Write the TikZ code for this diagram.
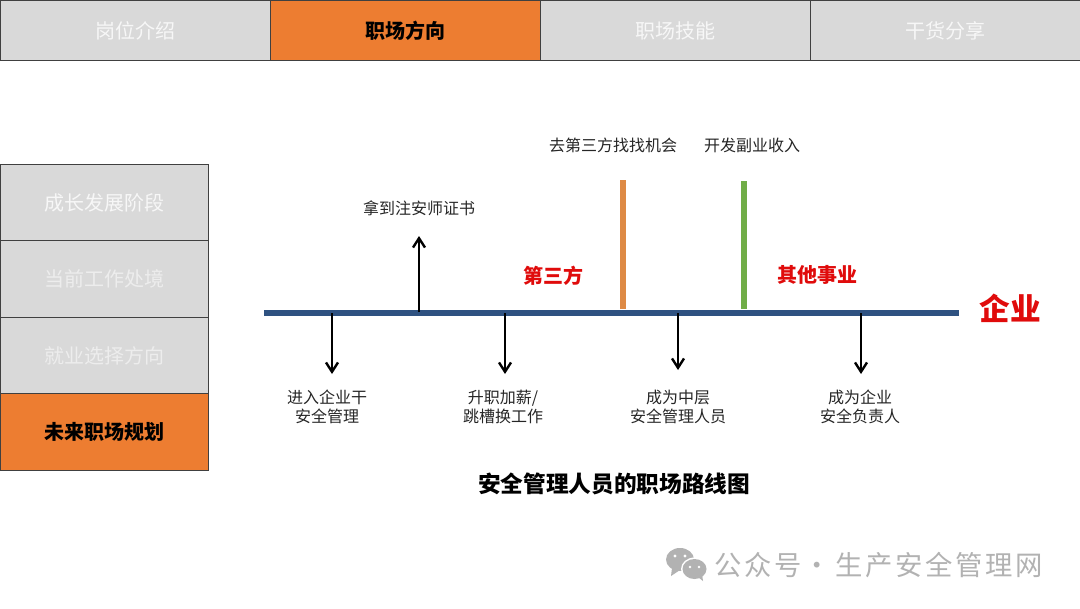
\documentclass[tikz,border=0pt]{standalone}
\usepackage{fontspec}
\setmainfont{Noto Sans CJK SC}
\newfontfamily\wmfont[LetterSpace=10]{Noto Sans CJK SC}
\usetikzlibrary{arrows.meta}
\definecolor{tabgrey}{HTML}{D9D9D9}
\definecolor{taborange}{HTML}{ED7D31}
\definecolor{tabedge}{HTML}{404040}
\definecolor{fadetext}{HTML}{EDEDED}
\definecolor{brighttext}{HTML}{F7F7F7}
\definecolor{axisblue}{HTML}{2F5281}
\definecolor{vorange}{HTML}{DE8A45}
\definecolor{vgreen}{HTML}{70AD47}
\definecolor{redlabel}{HTML}{E00B0B}
\definecolor{markgrey}{HTML}{B2B2B2}
\definecolor{labelgrey}{HTML}{262626}
\tikzset{
  px/.style={x=0.75pt,y=-0.75pt},
  tab/.style={draw=tabedge,line width=0.75pt,fill=tabgrey,text=brighttext,font=\fontsize{15}{18}\selectfont,inner sep=0pt,outer sep=0pt,minimum width=202.5pt,minimum height=45pt},
  tabactive/.style={tab,fill=taborange,text=black,font=\fontsize{15}{18}\selectfont\bfseries},
  side/.style={draw=tabedge,line width=0.75pt,fill=tabgrey,text=fadetext,font=\fontsize{15}{18}\selectfont,inner sep=0pt,outer sep=0pt,minimum width=156.5pt,minimum height=57.25pt},
  sideactive/.style={side,fill=taborange,text=black,font=\fontsize{15}{18}\selectfont\bfseries},
  note/.style={text=labelgrey,font=\fontsize{12}{14.2}\selectfont,align=center,inner sep=0pt},
  redtag/.style={text=redlabel,font=\fontsize{15}{18}\selectfont\bfseries,inner sep=0pt},
  jump/.style={-{Straight Barb[length=7pt,width=9pt,line width=1.8pt]},line width=1.8pt,black},
  wm/.style={text=markgrey,font=\wmfont\fontsize{20.5}{24}\selectfont,inner sep=0pt},
}
\begin{document}
\begin{tikzpicture}[px]
\useasboundingbox (0,0) rectangle (1080,608);
\fill[white] (0,0) rectangle (1080,608);
% top tabs
\node[tab] (t1) at (135,30.5) {岗位介绍};
\node[tab] (t3) at (675,30.5) {职场技能};
\node[tab] (t4) at (945,30.5) {干货分享};
\node[tabactive] (t2) at (405,30.5) {职场方向};
% side tabs
\node[side,text=brighttext] (s1) at (104.5,202.5) {成长发展阶段};
\node[side] (s2) at (104.5,279) {当前工作处境};
\node[side] (s3) at (104.5,355.5) {就业选择方向};
\node[sideactive] (s4) at (104.5,432) {未来职场规划};
% axis
\coordinate (axL) at (264,313);
\coordinate (axR) at (959,313);
\draw[axisblue,line width=4.2pt] (axL) -- (axR);
\node[text=redlabel,font=\fontsize{23}{26}\selectfont\bfseries,inner sep=0pt] (qy) at (1010,308) {企业};
% vertical bars
\coordinate (o0) at (623,309);
\coordinate (o1) at (623,180);
\coordinate (g0) at (744,309);
\coordinate (g1) at (744,181);
\draw[vorange,line width=4.2pt] (o0) -- (o1);
\draw[vgreen,line width=4.2pt] (g0) -- (g1);
\node[redtag] (dsf) at (553,276) {第三方};
\node[redtag] (qt) at (817,275) {其他事业};
\node[note] (n1) at (613,145) {去第三方找找机会};
\node[note] (n2) at (752,145) {开发副业收入};
% up arrow
\node[note] (n3) at (419,208) {拿到注安师证书};
\coordinate (u0) at (419,312);
\coordinate (u1) at (419,236);
\draw[jump] (u0) -- (u1);
% down arrows
\coordinate (a0) at (332,313);
\coordinate (a1) at (332,374);
\coordinate (b0) at (505,313);
\coordinate (b1) at (505,374);
\coordinate (c0) at (678,313);
\coordinate (c1) at (678,370);
\coordinate (d0) at (861,313);
\coordinate (d1) at (861,374);
\draw[jump] (a0) -- (a1);
\draw[jump] (b0) -- (b1);
\draw[jump] (c0) -- (c1);
\draw[jump] (d0) -- (d1);
\node[note] (l1) at (327,407) {进入企业干\\安全管理};
\node[note] (l2) at (503,407) {升职加薪/\\跳槽换工作};
\node[note] (l3) at (678,407) {成为中层\\安全管理人员};
\node[note] (l4) at (860,407) {成为企业\\安全负责人};
% title
\node[text=black,font=\fontsize{17}{20}\selectfont\bfseries,inner sep=0pt] (title) at (614,484) {安全管理人员的职场路线图};
% watermark
\fill[markgrey] (680,559.5) ellipse (14 and 11.5);
\fill[markgrey] (672,568) -- (671,576) -- (680,570) -- cycle;
\fill[white] (694.5,569) ellipse (13.5 and 11.5);
\fill[markgrey] (694.5,569) ellipse (12 and 10);
\fill[markgrey] (698,577) -- (703,581) -- (702,574) -- cycle;
\fill[white] (675,556) circle (1.6) (685,556) circle (1.6) (690,567) circle (1.4) (699,567) circle (1.4);
\node[wm,anchor=west] (wm1) at (714,565) {公众号};
\node[wm] (wm2) at (817,569) {·};
\node[wm,anchor=west] (wm3) at (835,565) {生产安全管理网};
\end{tikzpicture}
\end{document}
